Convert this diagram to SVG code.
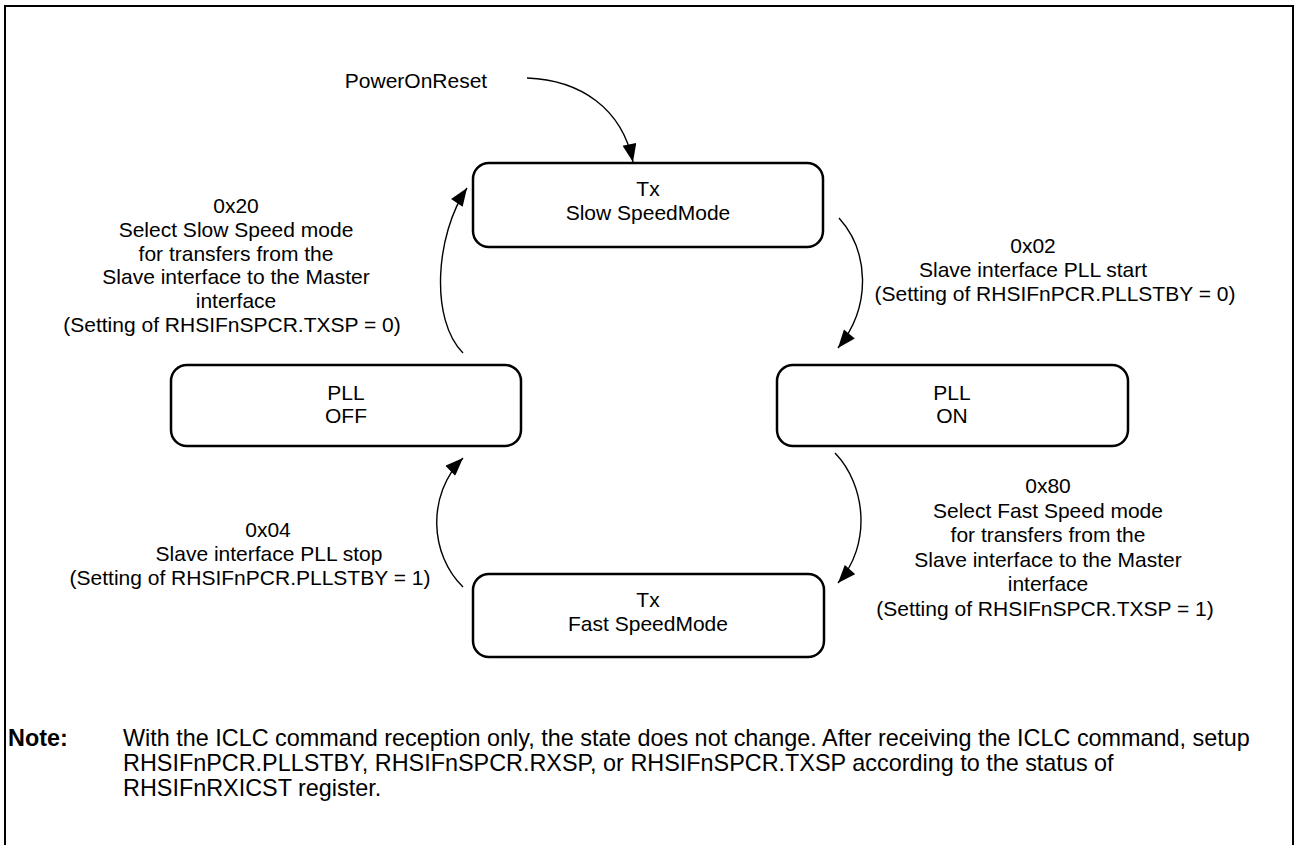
<svg xmlns="http://www.w3.org/2000/svg" width="1298" height="845" viewBox="0 0 1298 845">
<style>
.t{font-family:"Liberation Sans",Arial,sans-serif;font-size:21px;fill:#000;text-anchor:middle}
.n{font-family:"Liberation Sans",Arial,sans-serif;font-size:23.4px;fill:#000}
.box{fill:#fff;stroke:#000;stroke-width:2.5}
.c{fill:none;stroke:#000;stroke-width:1.4}
</style>
<defs>
<marker id="ah" markerUnits="userSpaceOnUse" markerWidth="20" markerHeight="14" viewBox="0 0 19 14" refX="18" refY="7" orient="auto">
<path d="M0,0 L18,7 L0,14 Z" fill="#000"/>
</marker>
</defs>
<rect x="5" y="6" width="1288" height="850" fill="#fff" stroke="#000" stroke-width="2"/>

<g id="connectors">
<path class="c" d="M527,78 C580,80 622,108 633,162" marker-end="url(#ah)"/>
<path class="c" d="M839,218 C868,250 873,305 838,348" marker-end="url(#ah)"/>
<path class="c" d="M835,453 C866,485 872,545 838,583" marker-end="url(#ah)"/>
<path class="c" d="M463,587 C430,555 426,495 463,458" marker-end="url(#ah)"/>
<path class="c" d="M463,353 C430,320 435,235 467,188" marker-end="url(#ah)"/>
</g>

<g id="start"><text class="t" x="416" y="88">PowerOnReset</text></g>

<g id="txslow">
<rect class="box" x="473" y="163" width="350" height="84" rx="16"/>
<text class="t" x="648" y="196">Tx</text>
<text class="t" x="648" y="220">Slow SpeedMode</text>
</g>

<g id="plloff">
<rect class="box" x="171" y="365" width="350" height="81" rx="16"/>
<text class="t" x="346" y="400">PLL</text>
<text class="t" x="346" y="423">OFF</text>
</g>

<g id="pllon">
<rect class="box" x="777" y="365" width="351" height="81" rx="16"/>
<text class="t" x="952" y="400">PLL</text>
<text class="t" x="952" y="423">ON</text>
</g>

<g id="txfast">
<rect class="box" x="473" y="574" width="351" height="83" rx="16"/>
<text class="t" x="648" y="607">Tx</text>
<text class="t" x="648" y="631">Fast SpeedMode</text>
</g>

<g id="lbl20">
<text class="t" x="236" y="213">0x20</text>
<text class="t" x="236" y="237">Select Slow Speed mode</text>
<text class="t" x="236" y="261">for transfers from the</text>
<text class="t" x="236" y="284">Slave interface to the Master</text>
<text class="t" x="236" y="308">interface</text>
<text class="t" x="232" y="332">(Setting of RHSIFnSPCR.TXSP = 0)</text>
</g>

<g id="lbl02">
<text class="t" x="1033" y="253">0x02</text>
<text class="t" x="1033" y="277">Slave interface PLL start</text>
<text class="t" x="1055" y="301">(Setting of RHSIFnPCR.PLLSTBY = 0)</text>
</g>

<g id="lbl80">
<text class="t" x="1048" y="493">0x80</text>
<text class="t" x="1048" y="518">Select Fast Speed mode</text>
<text class="t" x="1048" y="542">for transfers from the</text>
<text class="t" x="1048" y="567">Slave interface to the Master</text>
<text class="t" x="1048" y="591">interface</text>
<text class="t" x="1045" y="616">(Setting of RHSIFnSPCR.TXSP = 1)</text>
</g>

<g id="lbl04">
<text class="t" x="268" y="537">0x04</text>
<text class="t" x="269" y="561">Slave interface PLL stop</text>
<text class="t" x="250" y="585">(Setting of RHSIFnPCR.PLLSTBY = 1)</text>
</g>

<g id="note">
<text class="n" x="8" y="746" font-weight="bold">Note:</text>
<text class="n" x="123" y="746">With the ICLC command reception only, the state does not change. After receiving the ICLC command, setup</text>
<text class="n" x="123" y="771">RHSIFnPCR.PLLSTBY, RHSIFnSPCR.RXSP, or RHSIFnSPCR.TXSP according to the status of</text>
<text class="n" x="123" y="796">RHSIFnRXICST register.</text>
</g>
</svg>
